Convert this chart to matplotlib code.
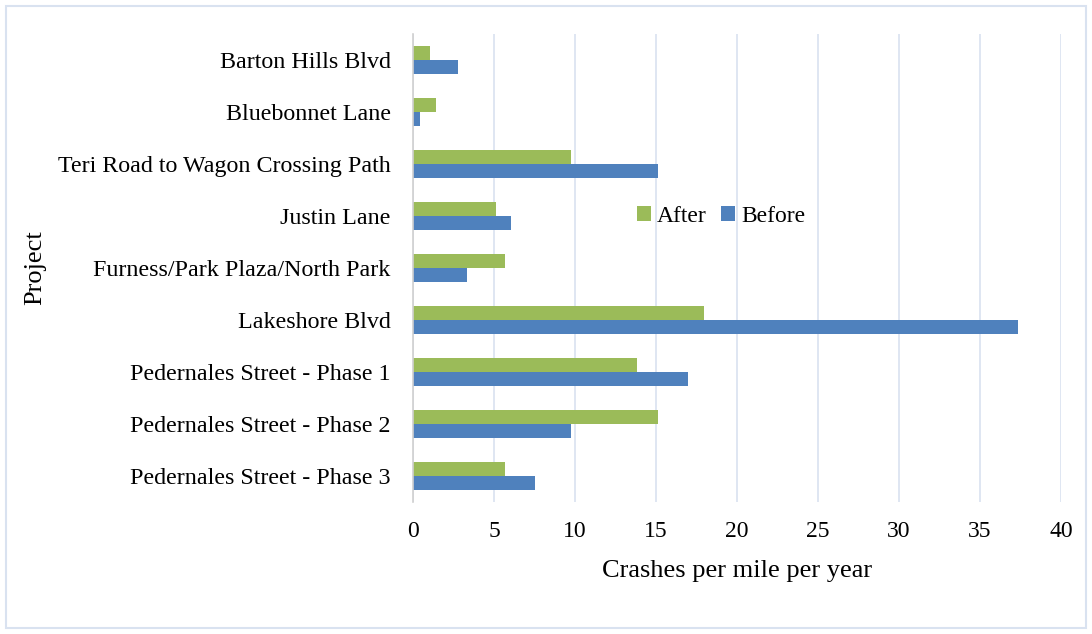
import matplotlib
matplotlib.use("Agg")
import matplotlib.pyplot as plt
import numpy as np
from matplotlib.patches import Rectangle

projects = ["Barton Hills Blvd", "Bluebonnet Lane", "Teri Road to Wagon Crossing Path",
            "Justin Lane", "Furness/Park Plaza/North Park", "Lakeshore Blvd",
            "Pedernales Street - Phase 1", "Pedernales Street - Phase 2",
            "Pedernales Street - Phase 3"]
after = [1.05, 1.45, 9.75, 5.15, 5.7, 17.95, 13.85, 15.15, 5.7]
before = [2.75, 0.45, 15.15, 6.05, 3.35, 37.35, 16.95, 9.75, 7.55]
xticks = [0, 5, 10, 15, 20, 25, 30, 35, 40]

plt.rcParams['font.family'] = ['Liberation Serif', 'DejaVu Serif']

fig = plt.figure(figsize=(10.92, 6.34), dpi=100)
ax = fig.add_axes([413/1092, 1-502/634, (1061-413)/1092, (502-34)/634])

y = np.arange(len(projects))
h = 0.26
green = "#9BBB59"
blue = "#4F81BD"
ax.barh(y - h/2, after, height=h, color=green, label="After", zorder=3)
ax.barh(y + h/2, before, height=h, color=blue, label="Before", zorder=3)

ax.set_ylim(len(projects) - 0.5, -0.5)
ax.set_xlim(0, 40)
ax.set_yticks(y)
ax.set_yticklabels(projects, fontsize=17.3)
ax.set_xticks(xticks)
ax.set_xticklabels([str(t) for t in xticks], fontsize=17)
ax.tick_params(axis='both', length=0)
ax.tick_params(axis='x', pad=14)
ax.tick_params(axis='y', pad=16)
ax.grid(axis='x', color="#D9E2F0", linewidth=1.2, zorder=0)
ax.set_axisbelow(True)
for s in ['top', 'right', 'bottom']:
    ax.spines[s].set_visible(False)
ax.spines['left'].set_color("#D0D0D0")
ax.spines['left'].set_linewidth(1.2)
ax.spines['left'].set_zorder(4)

ax.set_xlabel("Crashes per mile per year", fontsize=19, labelpad=13)
fig.text(35/1092, 1-268/634, "Project", rotation=90, fontsize=19, ha='center', va='center')

ax.legend(loc='center', bbox_to_anchor=((721-413)/(1061-413), 1-(216-34)/(502-34)),
          ncol=2, frameon=False, fontsize=17, handlelength=0.6, handleheight=0.6,
          handletextpad=0.25, columnspacing=0.6)

fig.patches.append(Rectangle((6/1092, 6/634), (1086-6)/1092, (628-6)/634,
                             transform=fig.transFigure, fill=False,
                             edgecolor="#D9E2F0", linewidth=1.5))

fig.savefig("out.png", dpi=100, facecolor="white")
